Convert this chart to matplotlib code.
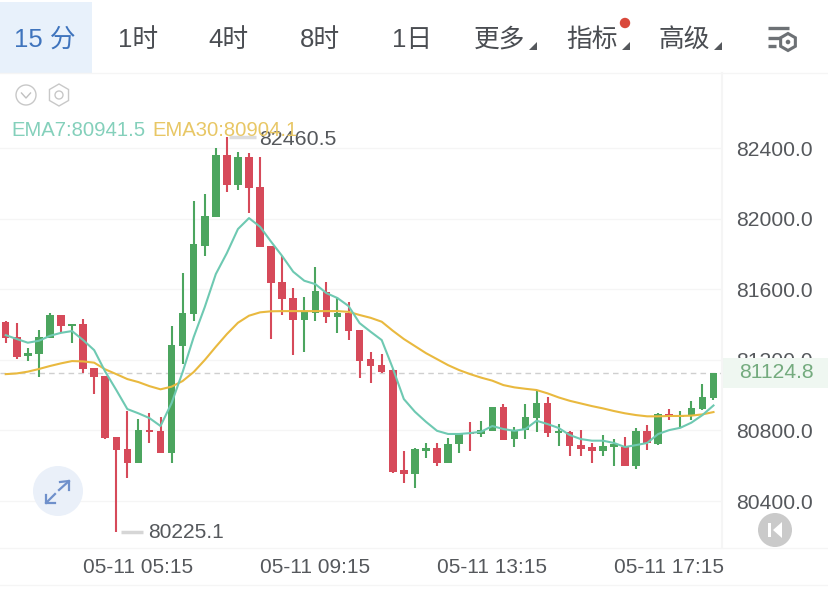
import matplotlib
matplotlib.use('Agg')
from matplotlib import pyplot as plt
from matplotlib.patches import Circle, Polygon, Rectangle, RegularPolygon

plt.rcParams['font.family'] = ['Liberation Sans', 'Noto Sans CJK SC', 'DejaVu Sans']

# Velas de 15 minutos
opens = [81416, 81327, 81221, 81233, 81322, 81454, 81391, 81403, 81152, 81108,
         80761, 80695, 80614, 80802, 80797, 80670, 81278, 81459, 81845, 82011,
         82360, 82190, 82351, 82181, 81845, 81639, 81552, 81425, 81463, 81586,
         81444, 81467, 81369, 81203, 81170, 81142, 80576, 80553, 80683, 80698,
         80617, 80721, 80787, 80780, 80798, 80931, 80750, 80800, 80868, 80953,
         80783, 80793, 80717, 80704, 80683, 80708, 80708, 80598, 80797, 80721,
         80893, 80878, 80887, 80919, 80985]
highs = [81421, 81407, 81265, 81369, 81467, 81454, 81403, 81429, 81152, 81108,
         80764, 80910, 80863, 80897, 80878, 81391, 81693, 82100, 82139, 82398,
         82460.5, 82379, 82370, 82351, 81845, 81788, 81605, 81557, 81724, 81642,
         81556, 81529, 81369, 81242, 81231, 81146, 80685, 80698, 80730, 80730,
         80755, 80787, 80849, 80855, 80933, 80948, 80821, 80950, 81029, 80991,
         80836, 80797, 80802, 80730, 80774, 80750, 80764, 80812, 80831, 80897,
         80919, 80912, 80966, 81063, 81124.8]
lows = [81295, 81203, 81195, 81104, 81322, 81359, 81293, 81123, 81006, 80750,
        80225.1, 80529, 80614, 80727, 80670, 80614, 81174, 81420, 81788, 82011,
        82152, 82162, 82033, 81837, 81318, 81454, 81227, 81246, 81421, 81410,
        81352, 81312, 81095, 81070, 81127, 80560, 80500, 80472, 80642, 80600,
        80617, 80674, 80685, 80764, 80798, 80746, 80708, 80750, 80789, 80764,
        80713, 80655, 80655, 80617, 80655, 80598, 80598, 80580, 80689, 80717,
        80859, 80817, 80859, 80916, 80972]
closes = [81325, 81218, 81240, 81327, 81454, 81391, 81403, 81146, 81104, 80755,
          80689, 80614, 80802, 80789, 80670, 81284, 81467, 81854, 82016, 82360,
          82190, 82351, 82175, 81837, 81633, 81544, 81425, 81469, 81590, 81444,
          81467, 81363, 81193, 81165, 81133, 80566, 80553, 80693, 80698, 80614,
          80723, 80783, 80780, 80802, 80933, 80746, 80802, 80878, 80953, 80783,
          80797, 80713, 80695, 80683, 80712, 80725, 80598, 80797, 80727, 80893,
          80881, 80887, 80925, 80991, 81124.8]

ema7 = [81340, 81318, 81297, 81308, 81336, 81353, 81363, 81312, 81255, 81133,
        81029, 80921, 80897, 80870, 80825, 80955, 81131, 81329, 81499, 81686,
        81805, 81941, 82003, 81954, 81869, 81788, 81699, 81648, 81629, 81578,
        81550, 81505, 81408, 81359, 81312, 81153, 80978, 80906, 80849, 80798,
        80780, 80780, 80785, 80793, 80825, 80808, 80798, 80808, 80855, 80836,
        80814, 80774, 80751, 80742, 80742, 80729, 80706, 80717, 80729, 80780,
        80802, 80815, 80844, 80887, 80941.5]
ema30 = [81119, 81123, 81133, 81148, 81165, 81180, 81193, 81191, 81184, 81146,
         81119, 81091, 81074, 81051, 81033, 81048, 81080, 81131, 81199, 81274,
         81346, 81410, 81450, 81469, 81475, 81476, 81476, 81476, 81476, 81476,
         81476, 81472, 81454, 81438, 81416, 81365, 81318, 81278, 81238, 81204,
         81170, 81142, 81119, 81099, 81082, 81057, 81044, 81036, 81029, 81010,
         80987, 80968, 80953, 80938, 80925, 80910, 80897, 80887, 80880, 80880,
         80882, 80882, 80884, 80891, 80904.1]

price_ticks = [80400, 80800, 81200, 81600, 82000, 82400]
time_ticks = [12, 28, 44, 60]
time_labels = ['05-11 05:15', '05-11 09:15', '05-11 13:15', '05-11 17:15']
tabs = ['1时', '4时', '8时', '1日', '更多', '指标', '高级']

GREEN = '#4ca55f'
RED = '#d64a5a'
TEAL = '#6ec9b2'
YELLOW = '#e9b93f'
GRAY_TEXT = '#55585c'
LINE = '#f5f5f5'

fig = plt.figure(figsize=(8.29, 5.92), dpi=100)

# Zona de velas
ax = fig.add_axes([0, 44 / 592, 722 / 829, 475 / 592])
ax.set_xlim(-0.515, 64.77)
ax.set_ylim(80134, 82825)
for spine in ax.spines.values():
    spine.set_visible(False)

ax.set_yticks(price_ticks)
ax.set_yticklabels([f'{p:.1f}' for p in price_ticks], fontsize=15.2, color=GRAY_TEXT)
ax.yaxis.tick_right()
ax.tick_params(axis='y', length=0, pad=10.5)
ax.set_xticks(time_ticks)
ax.set_xticklabels(time_labels, fontsize=15, color=GRAY_TEXT)
ax.tick_params(axis='x', length=0, pad=7)
ax.grid(axis='y', color='#f5f5f5', linewidth=1)
ax.set_axisbelow(True)

ax.axhline(closes[-1], color='#cfcfcf', linewidth=1, linestyle=(0, (4, 3)), zorder=1)

for i in range(len(opens)):
    color = GREEN if closes[i] >= opens[i] else RED
    top = max(opens[i], closes[i])
    bottom = min(opens[i], closes[i])
    ax.vlines(i, lows[i], highs[i], color=color, linewidth=1.5, zorder=2)
    ax.bar(i, top - bottom, bottom=bottom, width=0.68, color=color, linewidth=0, zorder=3)

ax.plot(range(len(ema30)), ema30, color=YELLOW, linewidth=1.5, zorder=4)
ax.plot(range(len(ema7)), ema7, color=TEAL, linewidth=1.5, zorder=5)

# Etiquetas de maximo y minimo
ax.hlines(max(highs), 20.2, 22.6, color='#dddddd', linewidth=2.5, zorder=1)
ax.text(22.9, max(highs) - 10, '82460.5', fontsize=15.4, color=GRAY_TEXT, va='center', zorder=6)
ax.hlines(min(lows), 10.4, 12.4, color='#d6d6d6', linewidth=2.5, zorder=1)
ax.text(12.85, min(lows) - 5, '80225.1', fontsize=15.1, color=GRAY_TEXT, va='center', zorder=6)

# Capa en pixeles para la interfaz
ui = fig.add_axes([0, 0, 1, 1], zorder=5)
ui.set_xlim(0, 829)
ui.set_ylim(592, 0)
ui.axis('off')
ui.patch.set_alpha(0)

ui.add_patch(Rectangle((0, 2), 92, 71, color='#e8f1fb', linewidth=0))
ui.text(45, 40, '15 分', fontsize=18.5, color='#3f74bd', ha='center', va='center')

tab_x = [138, 228, 320, 412, 500, 592, 684]
for x, tab in zip(tab_x, tabs):
    ui.text(x, 40, tab, fontsize=18.5, color='#4a4d52', ha='center', va='center')
for x in [533, 626, 718]:
    ui.add_patch(Polygon([[x - 4, 50], [x + 4, 50], [x + 4, 42]], color='#55585c', linewidth=0))
ui.add_patch(Circle((625, 23), 5.2, color='#d9483b', linewidth=0))

# Icono de ajustes
for y, x1 in [(28, 789), (38, 780), (46, 776)]:
    ui.plot([768, x1], [y, y], color='#6d7175', linewidth=2.4, solid_capstyle='butt')
ui.add_patch(RegularPolygon((788, 42), 6, radius=8.5, facecolor='white', edgecolor='#6d7175', linewidth=2.2))
ui.add_patch(Circle((788, 42), 2.3, color='#6d7175', linewidth=0))

# Lineas de separacion
ui.plot([0, 829], [73, 73], color=LINE, linewidth=1)
ui.plot([722, 722], [73, 548], color=LINE, linewidth=1.5)
ui.plot([0, 829], [548, 548], color=LINE, linewidth=1)
ui.plot([0, 829], [585, 585], color=LINE, linewidth=1)

# Iconos pequenos de la leyenda
ui.add_patch(Circle((26, 95), 10, facecolor='white', edgecolor='#c8c8c8', linewidth=1))
ui.plot([21.5, 26, 30.5], [93, 98, 93], color='#c0c0c0', linewidth=1)
ui.add_patch(RegularPolygon((59, 95), 6, radius=11, facecolor='white', edgecolor='#c8c8c8', linewidth=1))
ui.add_patch(Circle((59, 95), 4, facecolor='white', edgecolor='#c8c8c8', linewidth=1))

ui.text(11, 130, 'EMA7:80941.5', fontsize=14.6, color='#84d0bb', va='center')
ui.text(152, 130, 'EMA30:80904.1', fontsize=14.6, color='#e8c765', va='center')

# Precio actual
ui.add_patch(Rectangle((723, 358), 106, 30, color='#eff7f1', linewidth=0))
ui.text(776, 373, f'{closes[-1]:.1f}', fontsize=15.2, color='#74ab7e', ha='center', va='center')

# Boton de expandir
ui.add_patch(Circle((58, 491), 25, color='#eaf0f9', linewidth=0))
for xs, ys in [([59, 69], [490, 481]), ([60, 69, 69], [482, 481, 490]),
               ([55, 46], [494, 503]), ([46, 46, 55], [495, 503, 503])]:
    ui.plot(xs, ys, color='#6f90cb', linewidth=1.6)

# Boton de volver al final
ui.add_patch(Circle((775, 530), 17, color='#cacaca', linewidth=0))
ui.add_patch(Rectangle((768, 523), 3, 14, color='white', linewidth=0))
ui.add_patch(Polygon([[782, 522], [782, 538], [773, 530]], color='white', linewidth=0))

fig.savefig('out.png', dpi=100, facecolor='white')
plt.close(fig)
